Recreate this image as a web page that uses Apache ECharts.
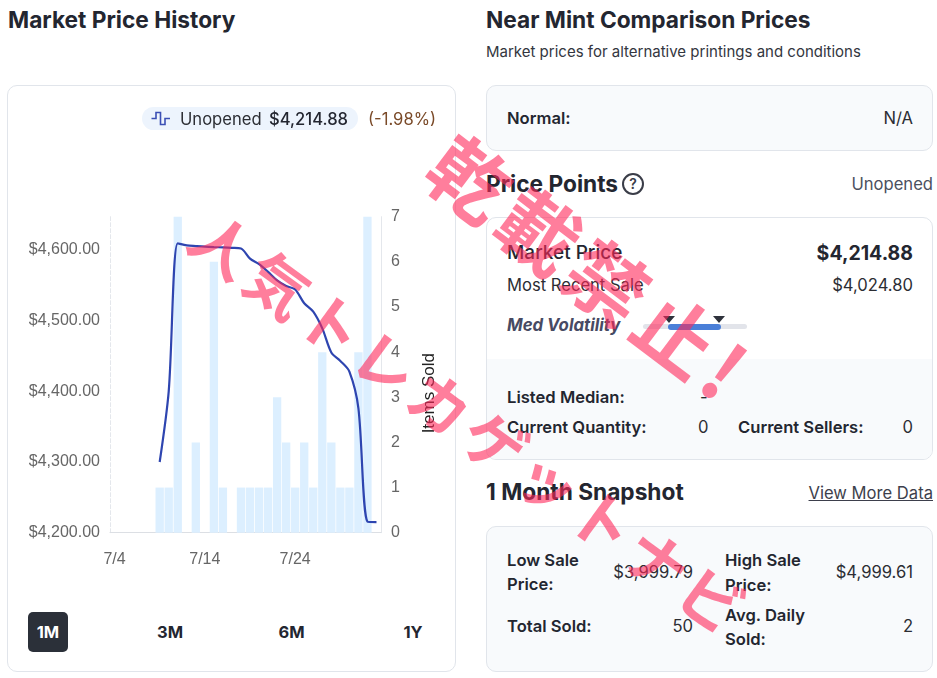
<!DOCTYPE html>
<html><head><meta charset="utf-8">
<script src="https://cdn.jsdelivr.net/npm/echarts@6/dist/echarts.min.js"></script>
<style>
html,body{margin:0;padding:0;width:937px;height:678px;overflow:hidden;background:#fff;font-family:Inter,'Noto Sans',sans-serif;color:#232630;}
.a{position:absolute;white-space:nowrap;}
.t{font-size:22.7px;font-weight:700;color:#232630;line-height:26px;}
.card{position:absolute;border:1px solid #e1e5eb;border-radius:10px;box-sizing:border-box;}
.lbl{font-size:16.6px;font-weight:600;line-height:20px;color:#232630;}
.val{font-size:16.6px;font-weight:400;line-height:20px;color:#2b2d33;}
.btn{position:absolute;top:612px;width:40px;height:40px;line-height:40px;text-align:center;font-size:16.5px;font-weight:700;color:#232630;border-radius:5px;}
.wm{position:absolute;white-space:nowrap;font-family:'Noto Sans CJK JP',sans-serif;font-weight:700;color:rgba(255,40,90,0.6);transform-origin:center center;z-index:5;pointer-events:none;}
</style></head>
<body>
<div class="a t" style="left:8px;top:7px;">Market Price History</div>
<div class="card" style="left:7px;top:85px;width:449px;height:587px;background:#fff;"></div>
<div class="a" style="left:142px;top:107px;width:216px;height:23px;border-radius:12px;background:#edf4fd;z-index:2;"></div>
<svg class="a" style="left:151px;top:111px;z-index:3;" width="20" height="15" viewBox="0 0 20 15"><path d="M0.5 7.5 H5 V1.5 H9.5 V13.5 H14 V7.5 H19" fill="none" stroke="#3b4fb5" stroke-width="1.6"/></svg>
<div class="a val" style="left:180px;top:108.5px;z-index:3;color:#2b2d33;">Unopened</div>
<div class="a val" style="left:269px;top:108.5px;z-index:3;font-weight:500;color:#232630;">$4,214.88</div>
<div class="a val" style="left:368px;top:108.5px;z-index:3;color:#7a4a28;">(-1.98%)</div>

<div class="btn" style="left:28px;background:#2b3039;color:#fff;">1M</div>
<div class="btn" style="left:150px;">3M</div>
<div class="btn" style="left:271.5px;">6M</div>
<div class="btn" style="left:393px;">1Y</div>

<div class="a t" style="left:486px;top:7px;">Near Mint Comparison Prices</div>
<div class="a" style="left:486px;top:43px;font-size:15px;line-height:18px;color:#333640;">Market prices for alternative printings and conditions</div>
<div class="card" style="left:486px;top:85px;width:447px;height:66px;background:#f8fafc;"></div>
<div class="a lbl" style="left:507px;top:108px;">Normal:</div>
<div class="a val" style="right:24px;top:108px;">N/A</div>

<div class="a t" style="left:486px;top:171px;">Price Points</div>
<div class="a" style="left:622px;top:173px;width:18px;height:18px;border:2px solid #3a3d48;border-radius:50%;text-align:center;line-height:18px;font-size:14px;font-weight:600;color:#3a3d48;">?</div>
<div class="a val" style="right:4px;top:174px;color:#4b5060;">Unopened</div>

<div class="card" style="left:486px;top:217px;width:447px;height:243px;background:#fff;overflow:hidden;">
  <div style="position:absolute;left:0;right:0;top:141px;bottom:0;background:#f8fafc;"></div>
</div>
<div class="a" style="left:507px;top:241px;font-size:19px;font-weight:500;line-height:24px;color:#232630;">Market Price</div>
<div class="a" style="right:24px;top:241px;font-size:19.5px;font-weight:700;line-height:24px;color:#232630;">$4,214.88</div>
<div class="a val" style="left:507px;top:275px;">Most Recent Sale</div>
<div class="a val" style="right:24px;top:275px;">$4,024.80</div>
<div class="a" style="left:507px;top:315px;font-size:16.8px;font-weight:700;font-style:italic;line-height:20px;color:#474a63;">Med Volatility</div>
<div class="a" style="left:643px;top:324px;width:104px;height:5px;border-radius:3px;background:#e2e4ea;"></div>
<div class="a" style="left:668px;top:323.5px;width:53px;height:6px;border-radius:3px;background:#4a7fd8;"></div>
<svg class="a" style="left:663px;top:316px;" width="62" height="8" viewBox="0 0 62 8"><path d="M0 0 H12 L6 7 Z M50 0 H62 L56 7 Z" fill="#2f323c"/></svg>
<div class="a lbl" style="left:507px;top:387px;">Listed Median:</div>
<div class="a val" style="left:700px;top:387px;">-</div>
<div class="a lbl" style="left:507px;top:417px;">Current Quantity:</div>
<div class="a val" style="left:698px;top:417px;">0</div>
<div class="a lbl" style="left:738px;top:417px;">Current Sellers:</div>
<div class="a val" style="right:24px;top:417px;">0</div>

<div class="a t" style="left:486px;top:479px;">1 Month Snapshot</div>
<div class="a val" style="right:4px;top:483px;text-decoration:underline;color:#3d3f4c;">View More Data</div>
<div class="card" style="left:486px;top:526px;width:447px;height:146px;background:#f8fafc;"></div>
<div class="a lbl" style="left:507px;top:550px;">Low Sale</div>
<div class="a lbl" style="left:507px;top:574px;">Price:</div>
<div class="a val" style="right:244px;top:562px;">$3,999.79</div>
<div class="a lbl" style="left:725px;top:550px;">High Sale</div>
<div class="a lbl" style="left:725px;top:575px;">Price:</div>
<div class="a val" style="right:24px;top:562px;">$4,999.61</div>
<div class="a lbl" style="left:507px;top:616px;">Total Sold:</div>
<div class="a val" style="right:244px;top:616px;">50</div>
<div class="a lbl" style="left:725px;top:605px;">Avg. Daily</div>
<div class="a lbl" style="left:725px;top:629px;">Sold:</div>
<div class="a val" style="right:24px;top:616px;">2</div>

<div id="chart" style="position:absolute;left:0;top:0;width:937px;height:678px;z-index:1;pointer-events:none;"></div>

<div class="wm" style="left:592px;top:266px;font-size:80px;line-height:82px;letter-spacing:6px;transform:translate(-50%,-50%) rotate(37deg);">乾載禁止!</div>
<div class="wm" style="left:471px;top:422px;font-size:62px;line-height:64px;letter-spacing:5px;transform:translate(-50%,-50%) rotate(36deg);">人気トレカゲットナビ</div>

<script>
const days = ['7/4','7/5','7/6','7/7','7/8','7/9','7/10','7/11','7/12','7/13',
  '7/14','7/15','7/16','7/17','7/18','7/19','7/20','7/21','7/22','7/23',
  '7/24','7/25','7/26','7/27','7/28','7/29','7/30','7/31','8/1','8/2'];
const itemsSold = [0,0,0,0,0,1,1,7,0,2,
  0,6,1,0,1,1,1,1,3,2,
  1,2,1,4,2,1,1,4,7,0];
const marketPrice = [null,null,null,null,null,4300,4400,4609.3,4606.5,4605.5,
  4604.6,4604,4603.6,4603,4602,4587.6,4580,4569,4557,4549,
  4544,4524.5,4512.6,4489,4455,4443,4428,4376,4215.6,4214.88];
const priceAxis = {min:4200, max:4647, interval:100};
const soldAxis = {min:0, max:7, interval:1};

const chart = echarts.init(document.getElementById('chart'), null, {renderer:'canvas'});
const FONT = 'Liberation Sans, Arial, sans-serif';
const labelFont = {color:'#666', fontSize:16, fontFamily:FONT};
chart.setOption({
  animation:false,
  grid:{left:110, right:556, top:216.7, bottom:145.3},
  xAxis:{
    type:'category', data:days, boundaryGap:true,
    axisLine:{show:true, lineStyle:{color:'#dcdfe4'}},
    axisTick:{show:false},
    axisLabel:Object.assign({interval:9, margin:19}, labelFont),
    splitLine:{show:false}
  },
  yAxis:[{
    type:'value', position:'left', min:priceAxis.min, max:priceAxis.max, interval:priceAxis.interval,
    axisLine:{show:true, lineStyle:{color:'#e4e7ec', type:'dashed'}},
    axisTick:{show:false},
    splitLine:{show:false},
    axisLabel:Object.assign({margin:10, showMaxLabel:false,
      formatter:v=>'$'+v.toLocaleString('en-US',{minimumFractionDigits:2, maximumFractionDigits:2})}, labelFont)
  },{
    type:'value', position:'right', min:soldAxis.min, max:soldAxis.max, interval:soldAxis.interval,
    name:'Items Sold', nameLocation:'middle', nameRotate:90, nameGap:40,
    nameTextStyle:{color:'#222', fontSize:17, fontFamily:FONT, padding:[0,37,0,0]},
    axisLine:{show:true, lineStyle:{color:'#e4e7ec'}},
    axisTick:{show:false},
    splitLine:{show:false},
    axisLabel:Object.assign({margin:10}, labelFont)
  }],
  series:[{
    type:'bar', yAxisIndex:1, data:itemsSold, barCategoryGap:'8%',
    itemStyle:{color:'#dcefff'}, z:1
  },{
    type:'line', yAxisIndex:0, data:marketPrice, smooth:0.3, symbol:'none',
    connectNulls:false,
    lineStyle:{color:'#2e45b0', width:2.2}, z:3
  }]
});
</script>
</body></html>
